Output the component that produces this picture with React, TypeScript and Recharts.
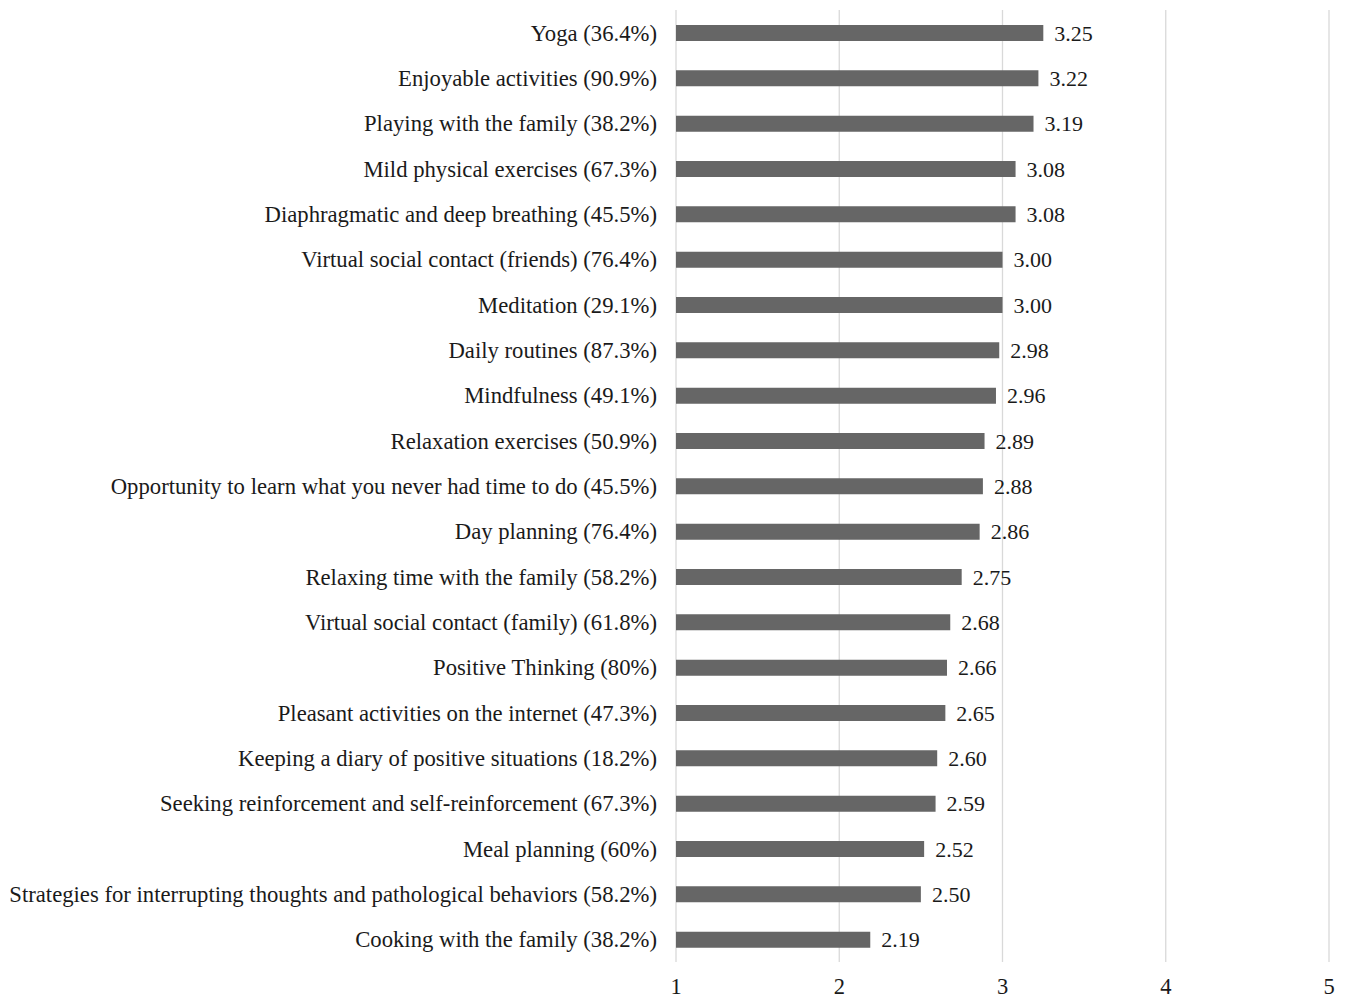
import React from 'react';
import { BarChart, Bar, XAxis, YAxis, CartesianGrid, LabelList } from 'recharts';

const strategies = [
  'Yoga',
  'Enjoyable activities',
  'Playing with the family',
  'Mild physical exercises',
  'Diaphragmatic and deep breathing',
  'Virtual social contact (friends)',
  'Meditation',
  'Daily routines',
  'Mindfulness',
  'Relaxation exercises',
  'Opportunity to learn what you never had time to do',
  'Day planning',
  'Relaxing time with the family',
  'Virtual social contact (family)',
  'Positive Thinking',
  'Pleasant activities on the internet',
  'Keeping a diary of positive situations',
  'Seeking reinforcement and self-reinforcement',
  'Meal planning',
  'Strategies for interrupting thoughts and pathological behaviors',
  'Cooking with the family',
];

const percents = [
  '36.4%', '90.9%', '38.2%', '67.3%', '45.5%', '76.4%', '29.1%', '87.3%', '49.1%', '50.9%',
  '45.5%', '76.4%', '58.2%', '61.8%', '80%', '47.3%', '18.2%', '67.3%', '60%', '58.2%', '38.2%',
];

const means = [
  3.25, 3.22, 3.19, 3.08, 3.08, 3.0, 3.0, 2.98, 2.96, 2.89,
  2.88, 2.86, 2.75, 2.68, 2.66, 2.65, 2.6, 2.59, 2.52, 2.5, 2.19,
];

const xTicks = [1, 2, 3, 4, 5];

const data = strategies.map((s, i) => ({
  name: `${s} (${percents[i]})`,
  value: means[i],
}));

const FONT = '"Liberation Serif", "Times New Roman", serif';

export default function App() {
  return (
    <div style={{ position: 'absolute', left: 0, top: 0, background: '#fff' }}>
      <BarChart
        width={1347}
        height={998}
        data={data}
        layout="vertical"
        margin={{ top: 10, right: 18, bottom: 0, left: 0 }}
      >
        <CartesianGrid horizontal={false} vertical stroke="#d9d9d9" strokeWidth={1.3} />
        <XAxis
          type="number"
          domain={[1, 5]}
          ticks={xTicks}
          height={36}
          axisLine={false}
          tickLine={false}
          tickMargin={10}
          tick={{ fill: '#1a1a1a', fontSize: 22.5, fontFamily: FONT }}
          interval={0}
        />
        <YAxis
          type="category"
          dataKey="name"
          width={676}
          axisLine={false}
          tickLine={false}
          tickMargin={13}
          interval={0}
          tick={{ fill: '#1a1a1a', fontSize: 22.7, fontFamily: FONT }}
        />
        <Bar dataKey="value" fill="#666666" barSize={16} isAnimationActive={false}>
          <LabelList
            dataKey="value"
            position="right"
            offset={11}
            formatter={(v: any) => Number(v).toFixed(2)}
            style={{ fill: '#1a1a1a', fontSize: 22, fontFamily: FONT }}
          />
        </Bar>
      </BarChart>
    </div>
  );
}
